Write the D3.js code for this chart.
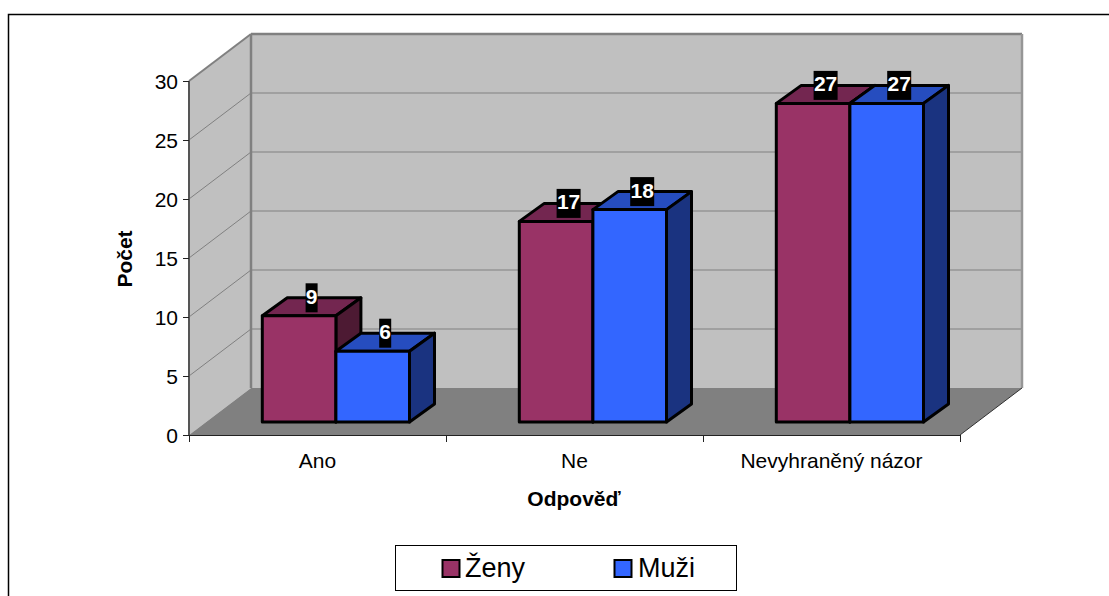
<!DOCTYPE html>
<html><head><meta charset="utf-8">
<script src="https://cdn.jsdelivr.net/npm/d3@7"></script>
<style>html,body{margin:0;padding:0;background:#fff}svg{display:block}text{font-family:"Liberation Sans",Arial,sans-serif;fill:#000}</style>
</head><body><svg id="c" width="1109" height="596"></svg>
<script>
const categories = ["Ano", "Ne", "Nevyhraněný názor"];
const seriesNames = ["Ženy", "Muži"];
const zeny = [9, 17, 27];
const muzi = [6, 18, 27];
const yTicks = [0, 5, 10, 15, 20, 25, 30];
const faceColors = [["#993366", "#732650", "#4d1a33"], ["#3366ff", "#264dbf", "#1a3380"]];

const W = 1109, H = 596;
const svg = d3.select("#c");
const x0 = 189, x1 = 960, y0 = 435, y30 = 81;
const wallD = [62, -47], barF = [18.4, -13], barD = [25, -18];
const x = d3.scaleBand().domain(categories).range([x0, x1]);
const y = d3.scaleLinear().domain([0, 30]).range([y0, y30]);
const barW = 73.6;
const line = d3.line();
const poly = (pts, fill, stroke, sw) => svg.append("path").attr("d", line(pts) + "Z").attr("fill", fill)
  .attr("stroke", stroke || "none").attr("stroke-width", sw || 0).attr("stroke-linejoin", "round");
const seg = (a, b, stroke, sw) => svg.append("line").attr("x1", a[0]).attr("y1", a[1]).attr("x2", b[0]).attr("y2", b[1])
  .attr("stroke", stroke).attr("stroke-width", sw);

// frame
svg.append("path").attr("d", `M8.5,${H}V14.5H${W}`).attr("fill", "none").attr("stroke", "#000").attr("stroke-width", 1.5);

// walls & floor
const bx0 = x0 + wallD[0], bx1 = x1 + wallD[0], by0 = y0 + wallD[1], by30 = y30 + wallD[1];
poly([[bx0, by0], [bx0, by30], [bx1, by30], [bx1, by0]], "#c0c0c0");
poly([[x0, y0], [x0, y30], [bx0, by30], [bx0, by0]], "#c0c0c0");
poly([[x0, y0], [bx0, by0], [bx1, by0], [x1, y0]], "#808080");
// gridlines
yTicks.slice(1, -1).forEach(t => {
  seg([x0, y(t)], [bx0, y(t) + wallD[1]], "#808080", 1);
  seg([bx0, y(t) + wallD[1]], [bx1, y(t) + wallD[1]], "#969696", 1.5);
});
// wall borders
seg([x0, y30], [bx0, by30], "#808080", 2);
seg([bx0, by30], [bx1, by30], "#808080", 2.5);
seg([bx1, by30], [bx1, by0], "#969696", 2.5);
seg([bx0, by30], [bx0, by0], "#808080", 2.5);
seg([x1, y0], [bx1, by0], "#303030", 1);
// axes
seg([x0, y30], [x0, y0], "#555", 2);
seg([x0, y0 + .5], [x1, y0 + .5], "#222", 1);
yTicks.forEach(t => seg([x0 - 6, y(t) + .5], [x0, y(t) + .5], "#222", 1));
[x0, x0 + x.step(), x0 + 2 * x.step(), x1].forEach(v => seg([v + .5, y0], [v + .5, y0 + 7], "#222", 1));

// bars
const labels = [];
categories.forEach((c, i) => {
  const cx = x(c) + x.bandwidth() / 2 + barF[0];
  [zeny[i], muzi[i]].forEach((v, s) => {
    const l = cx - barW + s * barW, r = l + barW, b = y(0) + barF[1], t = y(v) + barF[1];
    const [dx, dy] = barD, col = faceColors[s];
    poly([[l, t], [l + dx, t + dy], [r + dx, t + dy], [r, t]], col[1], "#000", 3);
    poly([[r, t], [r + dx, t + dy], [r + dx, b + dy], [r, b]], col[2], "#000", 3);
    poly([[l, t], [r, t], [r, b], [l, b]], col[0], "#000", 3);
    labels.push({ v, x: (l + r) / 2 + dx / 2, y: t + dy });
  });
});
labels.forEach(d => {
  const w = String(d.v).length * 12;
  svg.append("rect").attr("x", d.x - w / 2).attr("y", d.y - 14.5).attr("width", w).attr("height", 29).attr("fill", "#000");
  svg.append("text").attr("x", d.x).attr("y", d.y + 6).attr("text-anchor", "middle")
    .attr("font-size", 21).attr("font-weight", "bold").style("fill", "#fff").text(d.v);
});

// tick labels
yTicks.forEach(t => svg.append("text").attr("x", x0 - 11).attr("y", y(t) + 8).attr("text-anchor", "end").attr("font-size", 21).text(t));
categories.forEach(c => svg.append("text").attr("x", x(c) + x.bandwidth() / 2).attr("y", 468)
  .attr("text-anchor", "middle").attr("font-size", 21).text(c));

// axis titles
svg.append("text").attr("transform", "translate(132,259) rotate(-90)").attr("text-anchor", "middle").attr("font-size", 21).attr("font-weight", "bold").text("Počet");
svg.append("text").attr("x", 574).attr("y", 506).attr("text-anchor", "middle").attr("font-size", 21).attr("font-weight", "bold").text("Odpověď");

// legend
svg.append("rect").attr("x", 395.5).attr("y", 545.5).attr("width", 341).attr("height", 45).attr("fill", "#fff").attr("stroke", "#000").attr("stroke-width", 1);
[[442, 465], [614, 638]].forEach(([kx, tx], i) => {
  svg.append("rect").attr("x", kx + .5).attr("y", 560).attr("width", 17).attr("height", 17).attr("fill", faceColors[i][0]).attr("stroke", "#000").attr("stroke-width", 2);
  svg.append("text").attr("x", tx).attr("y", 577).attr("font-size", 27).text(seriesNames[i]);
});
</script></body></html>
